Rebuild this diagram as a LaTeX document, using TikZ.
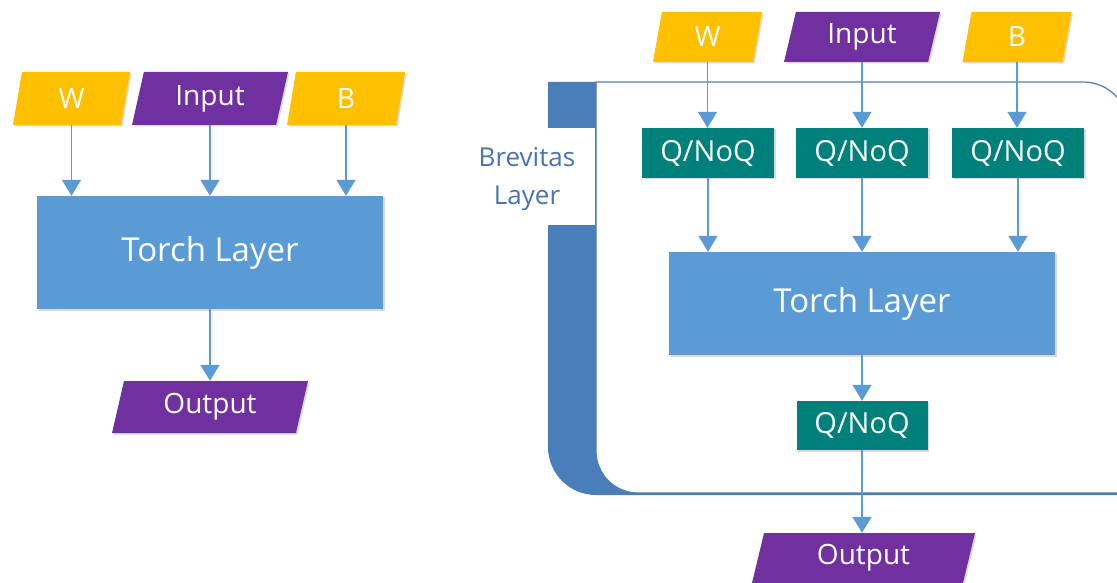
\documentclass[tikz,border=0pt]{standalone}
\usepackage{fontspec}
\setmainfont{Open Sans}
\usetikzlibrary{shapes.geometric, arrows.meta, shadows}
\definecolor{gold}{HTML}{FFC000}
\definecolor{vio}{HTML}{7030A0}
\definecolor{tealq}{HTML}{00807A}
\definecolor{torchc}{HTML}{5B9BD5}
\definecolor{arrowc}{HTML}{5B9BD5}
\definecolor{brev}{HTML}{4A7EBB}
\definecolor{brevline}{HTML}{4F7FB0}
\definecolor{brevtext}{HTML}{4674AC}
\newcommand\fsz[1]{\fontsize{#1}{#1}\selectfont}
\tikzset{
  shad/.style={drop shadow={shadow xshift=1.5pt, shadow yshift=-1.5pt, opacity=0.15, fill=black}},
  para/.style={trapezium, trapezium left angle=66, trapezium right angle=114,
    trapezium stretches body, inner sep=0pt, text=white, font=\fsz{28}, shad},
  wpara/.style={para, fill=gold},
  ipara/.style={para, fill=vio},
  qbox/.style={rectangle, fill=tealq, text=white, font=\fsz{29}, inner sep=0pt,
    minimum width=132pt, minimum height=50pt, shad},
  torchbox/.style={rectangle, fill=torchc, text=white, font=\fsz{33}, inner sep=0pt, shad},
  arr/.style={draw=arrowc, line width=1.6pt, -{Triangle[width=19pt,length=16pt]}},
}
\begin{document}
\begin{tikzpicture}[x=1pt,y=-1pt]
\useasboundingbox (0,0) rectangle (1117,583);
% Brevitas frame
\begin{scope}
\clip (0,0) rectangle (1117,583);
\fill[brev] (548,82) -- (596,82) -- (596,451) arc[start angle=180,end angle=90,radius=42]
  -- (1130,493) -- (1130,495) -- (596,495) arc[start angle=90,end angle=180,radius=48] -- cycle;
\fill[white] (545,128) rectangle (595,225);
\draw[brevline, line width=1.2pt] (596,82) -- (1083,82) arc[start angle=-90,end angle=0,radius=46]
  -- (1129,493) -- (638,493) arc[start angle=90,end angle=180,radius=42] -- cycle;
\end{scope}
\node[text=brevtext, font=\fontsize{26}{38}\selectfont, align=center] (brevlabel) at (527,179) {Brevitas\\Layer};

% Left diagram
\node[wpara, minimum width=117pt, minimum height=53pt] (lw) at (71.5,98.5) {W};
\node[ipara, minimum width=156pt, minimum height=53pt] (lin) at (210,98.5) {Input};
\node[wpara, minimum width=118pt, minimum height=53pt] (lb) at (346,98.5) {B};
\node[torchbox, minimum width=346pt, minimum height=113pt] (ltorch) at (210,252.5) {Torch Layer};
\node[ipara, minimum width=196pt, minimum height=52pt] (lout) at (210,407) {Output};
\draw[arr] (lw.center |- lw.south) -- (lw.center |- ltorch.north);
\draw[arr] (lin.center |- lin.south) -- (lin.center |- ltorch.north);
\draw[arr] (lb.center |- lb.south) -- (lb.center |- ltorch.north);
\draw[arr] (ltorch.south) -- (ltorch.south |- lout.north);

% Right diagram
\node[wpara, minimum width=109pt, minimum height=50pt] (rw) at (707.5,37) {W};
\node[ipara, minimum width=156pt, minimum height=50pt] (rin) at (862,37) {Input};
\node[wpara, minimum width=109pt, minimum height=50pt] (rb) at (1017,37) {B};
\node[qbox] (q1) at (708,153) {Q/NoQ};
\node[qbox] (q2) at (862,153) {Q/NoQ};
\node[qbox] (q3) at (1018,153) {Q/NoQ};
\node[torchbox, minimum width=386pt, minimum height=103pt] (rtorch) at (862,303.5) {Torch Layer};
\node[qbox, minimum width=131pt, minimum height=49pt] (q4) at (862,425.5) {Q/NoQ};
\node[ipara, minimum width=223pt, minimum height=50pt] (rout) at (863.5,558) {Output};
\draw[arr] (rw.center |- rw.south) -- (rw.center |- q1.north);
\draw[arr] (rin.center |- rin.south) -- (rin.center |- q2.north);
\draw[arr] (rb.center |- rb.south) -- (rb.center |- q3.north);
\draw[arr] (q1.south) -- (q1.south |- rtorch.north);
\draw[arr] (q2.south) -- (q2.south |- rtorch.north);
\draw[arr] (q3.south) -- (q3.south |- rtorch.north);
\draw[arr] (rtorch.south -| q4.north) -- (q4.north);
\draw[arr] (q4.south) -- (q4.south |- rout.north);
\end{tikzpicture}
\end{document}
